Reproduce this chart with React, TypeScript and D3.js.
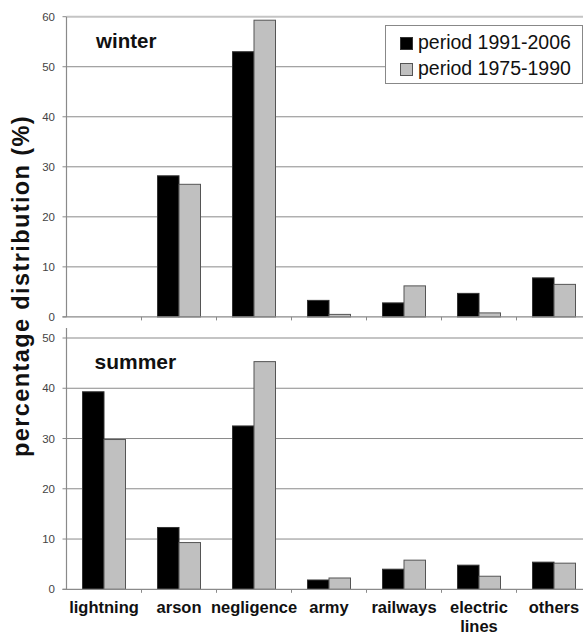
import React from "react";
import * as d3 from "d3";

const categories = ["lightning", "arson", "negligence", "army", "railways", "electric lines", "others"];
const seriesNames = ["period 1991-2006", "period 1975-1990"];
const winter1991 = [0, 28.2, 53.0, 3.3, 2.8, 4.7, 7.8];
const winter1975 = [0, 26.5, 59.3, 0.5, 6.2, 0.8, 6.5];
const summer1991 = [39.3, 12.3, 32.5, 1.85, 4.0, 4.8, 5.4];
const summer1975 = [29.8, 9.3, 45.3, 2.25, 5.8, 2.6, 5.2];
const winterTicks = [0, 10, 20, 30, 40, 50, 60];
const summerTicks = [0, 10, 20, 30, 40, 50];

const FONT = "'Liberation Sans', Arial, Helvetica, sans-serif";
const W = 583;
const H = 634;
const left = 66.5;
const right = 591.5;
const colors = ["#000000", "#c0c0c0"];
const strokes = ["#333333", "#555555"];

function Panel({ yTop, yBottom, max, ticks, a, b, label, labelX, labelY, labelSize, axisTop }: any) {
  const y = d3.scaleLinear().domain([0, max]).range([yBottom, yTop]);
  const x = d3.scaleBand().domain(categories).range([left, right]).paddingInner(0).paddingOuter(0);
  const barW = 21.5;
  const series = [a, b];
  return (
    <g>
      {ticks.map((t: number) => {
        const isTop = t === max;
        if (t === 0) return null;
        return (
          <line key={"g" + t} x1={left} x2={W + 10} y1={y(t)} y2={y(t)}
            stroke={isTop ? "#c4c4c4" : "#8a8a8a"} strokeWidth={isTop ? 2 : 1} />
        );
      })}
      {series.map((vals: number[], si: number) =>
        categories.map((c, i) => {
          const v = vals[i];
          if (!v) return null;
          const cx = (x(c) as number) + x.bandwidth() / 2;
          const bx = si === 0 ? cx - barW : cx;
          return (
            <rect key={si + "-" + c} x={bx} y={y(v)} width={barW} height={y(0) - y(v)}
              fill={colors[si]} stroke={strokes[si]} strokeWidth={1} />
          );
        })
      )}
      <line x1={left} x2={left} y1={axisTop} y2={y(0)} stroke="#8a8a8a" strokeWidth={1.2} />
      <line x1={left - 4} x2={W + 10} y1={y(0)} y2={y(0)} stroke="#8a8a8a" strokeWidth={1.2} />
      {ticks.map((t: number) => (
        <g key={"t" + t}>
          <line x1={left - 4} x2={left} y1={y(t)} y2={y(t)} stroke="#8a8a8a" />
          <text x={55} y={y(t)} dy="0.35em" textAnchor="end" fontSize={11.5} fill="#444" fontFamily={FONT}>{t}</text>
        </g>
      ))}
      {categories.map((c) => (
        <line key={"xt" + c} x1={(x(c) as number) + x.bandwidth()} x2={(x(c) as number) + x.bandwidth()}
          y1={y(0)} y2={y(0) + 3.5} stroke="#8a8a8a" />
      ))}
      <text x={labelX} y={labelY} fontSize={labelSize} fontWeight="bold" fill="#111" fontFamily={FONT}>{label}</text>
    </g>
  );
}

export default function App() {
  const x = d3.scaleBand().domain(categories).range([left, right]);
  return (
    <svg width={W} height={H} style={{ position: "absolute", left: 0, top: 0, background: "#fff" }}
      xmlns="http://www.w3.org/2000/svg">
      <rect x={0} y={0} width={W} height={H} fill="#fff" />
      <Panel yTop={16.7} yBottom={316.9} max={60} ticks={winterTicks} a={winter1991} b={winter1975}
        label="winter" labelX={96} labelY={48} labelSize={20.5} axisTop={16.7} />
      <Panel yTop={338} yBottom={589.3} max={50} ticks={summerTicks} a={summer1991} b={summer1975}
        label="summer" labelX={94.5} labelY={369} labelSize={21} axisTop={328} />
      {/* legend */}
      <g>
        <rect x={385.5} y={25.5} width={197} height={58} fill="#fff" stroke="#888" strokeWidth={1} />
        {seriesNames.map((s, i) => (
          <g key={s}>
            <rect x={400.5} y={37.5 + i * 26} width={12} height={12} fill={colors[i]} stroke={strokes[i]} />
            <text x={418} y={49.3 + i * 26} fontSize={19.5} fill="#111" fontFamily={FONT}>{s}</text>
          </g>
        ))}
      </g>
      {/* x labels */}
      {categories.map((c) => {
        const cx = (x(c) as number) + x.bandwidth() / 2;
        const parts = c === "electric lines" ? ["electric", "lines"] : [c];
        return (
          <text key={"xl" + c} x={cx} y={612.5} textAnchor="middle" fontSize={16.5} fontWeight="bold" fill="#111" fontFamily={FONT}>
            {parts.map((p, i) => (
              <tspan key={p} x={cx} dy={i === 0 ? 0 : 19}>{p}</tspan>
            ))}
          </text>
        );
      })}
      {/* y title */}
      <text transform="translate(29,286) rotate(-90)" textAnchor="middle" fontSize={23.5} fontWeight="bold"
        letterSpacing={1.4} fill="#111" fontFamily={FONT}>percentage distribution (%)</text>
    </svg>
  );
}
